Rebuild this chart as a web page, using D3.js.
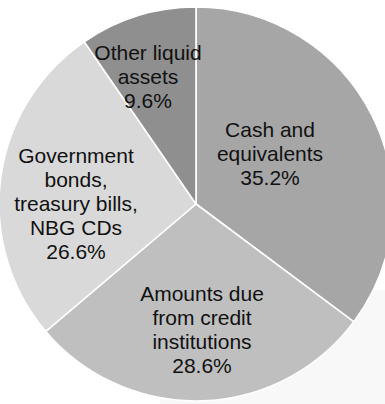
<!DOCTYPE html>
<html>
<head>
<meta charset="utf-8">
<script src="https://cdn.jsdelivr.net/npm/d3@7/dist/d3.min.js"></script>
<style>
  html, body { margin: 0; padding: 0; background: #ffffff; }
  svg { display: block; }
</style>
</head>
<body>
<svg id="chart" width="385" height="404"></svg>
<script>
// ---- data ----
const categories = ["Cash and equivalents", "Amounts due from credit institutions", "Government bonds, treasury bills, NBG CDs", "Other liquid assets"];
const labelLines = [
  ["Cash and", "equivalents"],
  ["Amounts due", "from credit", "institutions"],
  ["Government", "bonds,", "treasury bills,", "NBG CDs"],
  ["Other liquid", "assets"]
];
const values = [35.2, 28.6, 26.6, 9.6];
const colors = ["#a6a6a6", "#bfbfbf", "#d9d9d9", "#8f8f8f"];

// ---- layout ----
const W = 385, H = 404;
const cx = 196, cy = 204, R = 197;
const labelOffsets = [[74, -50.5], [6, 125.5], [-120, -1], [-48, -127.5]];
const lineH = 24, fontSize = 21, capHalf = 7.5;

const svg = d3.select("#chart");

// soft background shadow area (lower right)
svg.append("rect")
  .attr("x", 160).attr("y", 290)
  .attr("width", W - 160).attr("height", H - 290)
  .attr("fill", "#f8f8f8");

const pie = d3.pie().sort(null).value(d => d)(values);
const arc = d3.arc().innerRadius(0).outerRadius(R);

const g = svg.append("g").attr("transform", `translate(${cx},${cy})`);

g.selectAll("path.slice")
  .data(pie)
  .join("path")
  .attr("class", "slice")
  .attr("d", arc)
  .attr("fill", (d, i) => colors[i])
  .attr("stroke", "#ffffff")
  .attr("stroke-width", 1.6)
  .attr("stroke-linejoin", "round");

const fmt = d3.format(".1f");
const labels = g.selectAll("text.lbl")
  .data(pie)
  .join("text")
  .attr("class", "lbl")
  .attr("text-anchor", "middle")
  .attr("font-family", "'Liberation Sans', Arial, sans-serif")
  .attr("font-size", fontSize)
  .attr("fill", "#111111");

labels.each(function(d, i) {
  const lines = labelLines[i].concat([fmt(values[i]) + "%"]);
  const [dx, dy] = labelOffsets[i];
  const first = dy - (lines.length - 1) * lineH / 2 + capHalf;
  const t = d3.select(this);
  lines.forEach((ln, k) => {
    t.append("tspan")
      .attr("x", dx)
      .attr("y", first + k * lineH)
      .text(ln);
  });
});
</script>
</body>
</html>
